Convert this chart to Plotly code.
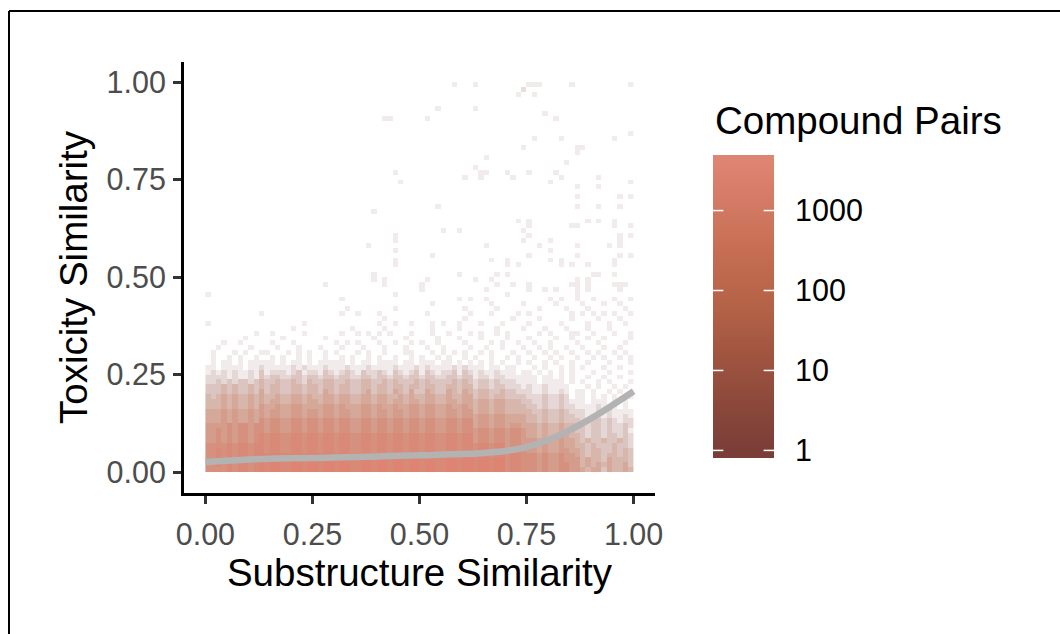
import numpy as np
import plotly.graph_objects as go

# ---------------- data ----------------
N_BINS = 80  # bins per axis on [0, 1]

# Dense band, one string per y-bin row (row 0 = lowest), one char per x-bin.
# Char = count level: 0 none, 1 ~1, 2 ~3, 3 ~8, 4 ~22, 5 ~63, 6 ~180, 7 ~500, 8 ~1400, 9 ~4000
band_rows = [
    "7777878878 9899889989 9899899889 9899899899 8998899899 8998997887 7767667766 5455354454",
    "7787878878 9899889989 9899899889 9899899899 8998899899 8998997887 7767667766 4545454453",
    "7787878878 9899889989 9899899889 9899899899 8998899899 8998997887 7767667666 4544354443",
    "7787878878 9899889989 9899899889 9899899899 8998899899 7887887887 7767667665 4344344343",
    "7787878878 8788778878 8788788778 8788788788 7887788788 7887887887 6656556655 4344334343",
    "7777878878 8788778878 8788788778 8788788788 7887788788 7887886776 6656556554 4343334332",
    "6676767767 8788778878 8788788778 8788788788 7887788788 6776776776 6656556554 3433433432",
    "6676767767 8788778878 8788788778 8788788788 7887788788 6776776776 5545445544 3233233232",
    "6676767767 7677667767 7677677667 7677677677 6776677677 6776776776 5545445443 3233232231",
    "6666767767 7677667767 7677677667 7677677677 6776677677 5665665665 5545445444 3233232232",
    "5556565565 7677667767 7677677667 7677677677 6776677677 5665665555 4434334333 2233232122",
    "5556565565 6566556656 6566566556 6566566566 5665566566 5665665555 4434334332 2122121121",
    "5556565565 6566556656 6566566556 6566566566 5665566566 4554554444 4334334322 2112121111",
    "4445454454 6556556655 5566565556 6565565566 5665565565 4554554444 3323223221 1112111010",
    "4445454454 5455445545 5455455445 5455455455 4554455455 4554554443 3223223211 1011101010",
    "4345454454 5445445545 4455455445 5455445454 4554454455 3443443333 2223223201 1010101001",
    "3334343343 5344334434 4354344334 5344354353 3543354354 3443343322 2112112101 1010010100",
    "3334343343 4344334434 4344344334 4344344344 3443344344 2332332221 2112111100 0101001010",
    "2232323323 4334334324 3344334334 4334343334 3433334343 2332322211 1101111010 1001010001",
    "2222121121 3233223323 3233233223 3233233233 2332233233 1221221111 1101101010 0100100100",
    "1212121121 3122212312 2132123213 2232132123 1321223132 1211211101 1010101010 0010010001",
    "1101111011 2111112121 1121112111 2111121112 1211112121 1101101100 0101001010 1000100100",
    "0101101011 1110101101 0111110101 1011110110 1110110101 0101010010 1001010010 0100010001",
    "0100101001 0010100101 0010010100 1010010010 1001010010 1001001010 0100101001 0010100101",
    "0100010100 1100010101 0010100010 1001000110 0010101010 0101000100 1001010010 0101001010",
    "0010000010 0001000100 0100010001 0001000100 0100100001 0010010001 0010100100 1000100100",
    "0001001000 0010001000 0000101010 0010010010 1001000010 0001010010 0100100001 0001000010",
    "0000000100 0000100000 0010000000 0100000100 0001000100 0100001000 1000010010 0100100001",
    "0000000001 0010000010 0000010010 1010100010 0010010001 0100101000 0010100011 0010001001",
    "0000000000 0000001000 0000000100 0001000000 0010000100 0000100001 0001000100 0100010000",
    "1000000000 0000000010 0000000000 0010010010 0010100100 0100010000 1000001000 0100010010",
    "0000000000 0000000000 0000000000 0001000000 0000000010 0000000100 0010000010 0001000100",
    "0000000000 1000000000 0000010010 0010000000 0100000001 0001000010 1000000010 1010101001",
    "0000000000 0000000000 0000001000 0000010000 0000000010 0000100000 0010000100 0100000010",
    "0000000000 0000000000 0000000000 0000000000 0010000000 0001000001 0000010000 1000100100",
]

# Scattered single pairs above the band (x, y in data units)
sparse_x = [0.58, 0.634, 0.741, 0.741, 0.755, 0.77, 0.78, 0.727, 0.767, 0.86, 0.995,
            0.54, 0.634, 0.42, 0.435, 0.515, 0.795, 0.82, 0.995, 0.767, 0.835, 0.953,
            0.741, 0.874, 0.886, 0.874, 0.66, 0.846, 0.634, 0.648, 0.66, 0.648, 0.70, 0.716,
            0.755, 0.82, 0.835, 0.914, 0.448, 0.61, 0.462, 0.81, 0.995,
            0.874, 0.874, 0.914, 0.967, 0.995, 0.54, 0.874, 0.914, 0.967, 0.396,
            0.727, 0.755, 0.755, 0.86, 0.874, 0.888, 0.914, 0.953, 0.953, 0.995,
            0.555, 0.594, 0.741, 0.755, 0.741, 0.448, 0.448, 0.967, 0.967, 0.967, 0.967, 0.995,
            0.382, 0.662, 0.785, 0.8, 0.8, 0.874, 0.942, 0.448, 0.529, 0.755, 0.874, 0.995,
            0.44, 0.448, 0.668, 0.71, 0.71, 0.727, 0.81, 0.835, 0.835, 0.86, 0.888, 0.9, 0.914,
            0.953, 0.953, 0.953,
            0.396, 0.396, 0.42, 0.42, 0.594, 0.68, 0.7, 0.515, 0.634, 0.67, 0.68, 0.72, 0.755,
            0.755, 0.5, 0.5,
            0.86, 0.874, 0.874, 0.874, 0.888, 0.888, 0.888, 0.874,
            0.953, 0.967, 0.98, 0.967, 0.287, 0.01, 0.66, 0.79, 0.82, 0.7, 0.448,
            0.32, 0.594, 0.62, 0.66, 0.81, 0.835, 0.874, 0.9, 0.953, 0.995]
sparse_y = [0.995, 0.995, 0.98, 0.98, 0.995, 0.995, 0.995, 0.97, 0.97, 0.995, 0.995,
            0.93, 0.93, 0.90, 0.90, 0.90, 0.913, 0.90, 0.87, 0.86, 0.86, 0.86,
            0.833, 0.833, 0.833, 0.82, 0.805, 0.79, 0.78, 0.767, 0.767, 0.75, 0.767, 0.75,
            0.767, 0.767, 0.75, 0.75, 0.767, 0.75, 0.738, 0.738, 0.738,
            0.725, 0.71, 0.725, 0.71, 0.71, 0.685, 0.685, 0.685, 0.685, 0.67,
            0.644, 0.644, 0.63, 0.63, 0.63, 0.644, 0.644, 0.644, 0.63, 0.63,
            0.618, 0.618, 0.618, 0.604, 0.59, 0.604, 0.59, 0.604, 0.59, 0.575, 0.56, 0.604,
            0.58, 0.58, 0.58, 0.59, 0.565, 0.58, 0.58, 0.565, 0.551, 0.551, 0.551, 0.551,
            0.54, 0.525, 0.54, 0.54, 0.525, 0.525, 0.54, 0.54, 0.525, 0.525, 0.525, 0.51, 0.51,
            0.54, 0.525, 0.51,
            0.51, 0.497, 0.497, 0.485, 0.51, 0.51, 0.51, 0.497, 0.497, 0.497, 0.485, 0.485, 0.485,
            0.47, 0.485, 0.47,
            0.485, 0.497, 0.485, 0.47, 0.497, 0.485, 0.47, 0.46,
            0.485, 0.485, 0.485, 0.47, 0.485, 0.46, 0.47, 0.47, 0.47, 0.46, 0.46,
            0.446, 0.446, 0.446, 0.446, 0.446, 0.446, 0.446, 0.446, 0.446, 0.446]

# Smoothed trend line
trend_x = [0.0, 0.05, 0.1, 0.15, 0.2, 0.3, 0.4, 0.5, 0.6, 0.65, 0.7, 0.75, 0.8, 0.85, 0.9, 0.95, 1.0]
trend_y = [0.026, 0.029, 0.032, 0.034, 0.035, 0.037, 0.040, 0.043, 0.046, 0.049, 0.054, 0.064,
           0.082, 0.107, 0.137, 0.171, 0.207]

x_ticks = [0.0, 0.25, 0.5, 0.75, 1.0]
x_ticklabels = ["0.00", "0.25", "0.50", "0.75", "1.00"]
y_ticks = [0.0, 0.25, 0.5, 0.75, 1.0]
y_ticklabels = ["0.00", "0.25", "0.50", "0.75", "1.00"]
legend_ticks = [1, 10, 100, 1000]
legend_ticklabels = ["1", "10", "100", "1000"]

# ---------------- build count grid ----------------
level_counts = {0: 0}
for L in range(1, 10):
    level_counts[L] = 10 ** ((L - 1) * 0.45)

counts = np.zeros((N_BINS, N_BINS))
for r, row in enumerate(band_rows):
    s = row.replace(" ", "")
    for c, ch in enumerate(s[:N_BINS]):
        counts[r, c] += level_counts[int(ch)]
for xv, yv in zip(sparse_x, sparse_y):
    c = min(int(xv * N_BINS), N_BINS - 1)
    r = min(int(yv * N_BINS), N_BINS - 1)
    counts[r, c] += 1

with np.errstate(divide="ignore"):
    zlog = np.where(counts > 0, np.log10(np.maximum(counts, 1e-9)), np.nan)
z = [[None if np.isnan(v) else float(v) for v in row] for row in zlog]
centers = [(i + 0.5) / N_BINS for i in range(N_BINS)]

ZMIN, ZMAX = 0.0, 3.6

# ---------------- colours ----------------
base_stops = [(0.0, (122, 62, 55)), (0.25, (150, 79, 62)), (0.5, (180, 98, 71)),
              (0.75, (203, 114, 89)), (1.0, (222, 132, 115))]


def base_color(t):
    for (t0, c0), (t1, c1) in zip(base_stops[:-1], base_stops[1:]):
        if t <= t1:
            f = (t - t0) / (t1 - t0)
            return tuple(c0[k] + f * (c1[k] - c0[k]) for k in range(3))
    return base_stops[-1][1]


base_scale = [[t, "rgb(%d,%d,%d)" % base_color(t)] for t in np.linspace(0, 1, 21)]
blend_scale = []
for t in np.linspace(0, 1, 41):
    a = 0.1 + 0.9 * t
    c = base_color(t)
    rgb = tuple(255 * (1 - a) + c[k] * a for k in range(3))
    blend_scale.append([float(t), "rgb(%d,%d,%d)" % rgb])

FONT = "Liberation Sans, Arial, Helvetica, sans-serif"
W, H = 1060, 634


def px_x(p):
    return p / W


def px_y(p):
    return (H - p) / H


fig = go.Figure()

fig.add_trace(go.Heatmap(
    x=centers, y=centers, z=z, zmin=ZMIN, zmax=ZMAX, colorscale=blend_scale,
    showscale=False, hoverongaps=False, zsmooth=False, xaxis="x", yaxis="y"))

fig.add_trace(go.Scatter(
    x=trend_x, y=trend_y, mode="lines", line=dict(color="#B3B3B3", width=6.5, shape="spline",
                                                  smoothing=1.0),
    showlegend=False, xaxis="x", yaxis="y"))

# legend colour bar drawn as its own small heatmap
cb_vals = list(np.linspace(-0.095, 3.695, 300))
fig.add_trace(go.Heatmap(
    x=[0], y=cb_vals, z=[[v] for v in cb_vals], zmin=ZMIN, zmax=ZMAX, colorscale=base_scale,
    showscale=False, zsmooth="best", hoverinfo="skip", xaxis="x2", yaxis="y2"))

shapes = []
for v in np.log10(legend_ticks):
    for x0, x1 in [(0, 0.17), (0.83, 1.0)]:
        shapes.append(dict(type="line", xref="x2 domain", yref="y2", x0=x0, x1=x1, y0=v, y1=v,
                           line=dict(color="white", width=1.5), layer="above"))
# outer frame
shapes.append(dict(type="line", xref="paper", yref="paper", x0=px_x(9), x1=1.0,
                   y0=px_y(11), y1=px_y(11), line=dict(color="black", width=2)))
shapes.append(dict(type="line", xref="paper", yref="paper", x0=px_x(9), x1=px_x(9),
                   y0=0.0, y1=px_y(11), line=dict(color="black", width=2)))

axis_common = dict(showgrid=False, zeroline=False, showline=True, linecolor="black", linewidth=3,
                   ticks="outside", ticklen=8, tickwidth=3, tickcolor="#333333", automargin=False,
                   tickfont=dict(family=FONT, size=30.5, color="#4D4D4D"))

fig.update_layout(
    width=W, height=H, margin=dict(l=0, r=0, t=0, b=0, pad=0, autoexpand=False),
    paper_bgcolor="white", plot_bgcolor="white", showlegend=False,
    font=dict(family=FONT, color="black"),
    xaxis=dict(domain=[px_x(184), px_x(655)], range=[-0.05, 1.05], anchor="y",
               tickvals=x_ticks, ticktext=x_ticklabels, ticklabelstandoff=4,
               title=dict(text="Substructure Similarity", font=dict(family=FONT, size=38.5, color="black"),
                          standoff=0),
               **axis_common),
    yaxis=dict(domain=[px_y(493), px_y(62)], range=[-0.0538, 1.0513], anchor="x",
               tickvals=y_ticks, ticktext=y_ticklabels, ticklabelstandoff=1,
               title=dict(text="Toxicity Similarity", font=dict(family=FONT, size=38.5, color="black"),
                          standoff=8),
               **axis_common),
    xaxis2=dict(domain=[px_x(713), px_x(774)], range=[-0.5, 0.5], anchor="y2", visible=False,
                automargin=False),
    yaxis2=dict(domain=[px_y(458), px_y(155)], range=[-0.095, 3.695], anchor="x2", side="right",
                showgrid=False, zeroline=False, showline=False, ticks="", automargin=False,
                tickvals=list(np.log10(legend_ticks)), ticktext=legend_ticklabels,
                ticklabelstandoff=20, tickfont=dict(family=FONT, size=30.5, color="black")),
    shapes=shapes,
    annotations=[dict(text="Compound Pairs", xref="paper", yref="paper", x=px_x(713), y=px_y(120),
                      xanchor="left", yanchor="middle", showarrow=False,
                      font=dict(family=FONT, size=38.5, color="black"))],
)

fig.write_html("out.html")
